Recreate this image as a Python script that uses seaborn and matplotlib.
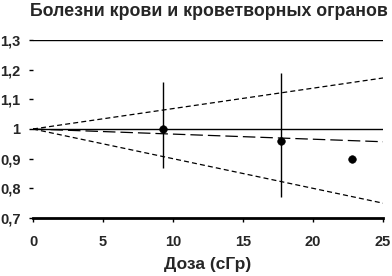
import matplotlib
matplotlib.use("Agg")
import matplotlib.pyplot as plt
import seaborn as sns
import pandas as pd
from matplotlib.ticker import FuncFormatter

# observed relative risk by dose group
dose = [9.3, 17.7, 22.8]
rr = [1.0, 0.96, 0.90]
ci_low = [0.87, 0.77, None]
ci_high = [1.16, 1.19, None]

# fitted model and its confidence band
fit_dose = [0, 25]
fit_rr = [1.0, 0.957]
fit_upper = [1.0, 1.172]
fit_lower = [1.0, 0.75]

xticks = [0, 5, 10, 15, 20, 25]
yticks = [0.7, 0.8, 0.9, 1.0, 1.1, 1.2, 1.3]

sns.set_style("white")
plt.rcParams["font.family"] = ["Liberation Sans", "DejaVu Sans"]
plt.rcParams["font.weight"] = "bold"

fig = plt.figure(figsize=(3.92, 2.76), dpi=100)
ax = fig.add_axes([33 / 392, 1 - 218 / 276, 350 / 392, 178 / 276])

fit = pd.DataFrame({"dose": fit_dose, "rr": fit_rr, "up": fit_upper, "lo": fit_lower})
sns.lineplot(data=fit, x="dose", y="rr", ax=ax, color="black", lw=0.9, linestyle=(0, (10, 4)))
sns.lineplot(data=fit, x="dose", y="up", ax=ax, color="black", lw=0.9, linestyle=(0, (4, 2.5)))
sns.lineplot(data=fit, x="dose", y="lo", ax=ax, color="black", lw=0.9, linestyle=(0, (4, 2.5)))

ax.axhline(1.0, color="black", lw=1)
ax.axhline(1.3, color="black", lw=1)

for x, lo, hi in zip(dose, ci_low, ci_high):
    if lo is not None:
        ax.vlines(x, lo, hi, color="black", lw=1)

pts = pd.DataFrame({"dose": dose, "rr": rr})
sns.scatterplot(data=pts, x="dose", y="rr", ax=ax, color="black", s=30, edgecolor="black", zorder=5)

ax.set_xlim(0, 25)
ax.set_ylim(0.7, 1.3)
ax.set_xticks(xticks)
ax.set_yticks(yticks)
ax.yaxis.set_major_formatter(FuncFormatter(lambda v, p: f"{v:g}".replace(".", ",")))
for s in ["top", "right", "left"]:
    ax.spines[s].set_visible(False)
ax.spines["bottom"].set_linewidth(2)
ax.spines["bottom"].set_color("black")
ax.tick_params(axis="x", length=3, width=1, color="black", pad=9, labelsize=10.5)
ax.tick_params(axis="y", length=3, width=1, color="black", pad=6, labelsize=10.5)
ax.tick_params(left=True, bottom=True)

ax.set_xlabel("Доза (сГр)", fontsize=12.5, fontweight="bold", labelpad=6)
ax.set_ylabel("")
fig.suptitle("Болезни крови и кроветворных огранов", x=0.533, y=0.99, fontsize=12.8,
             fontweight="bold", va="top")

fig.savefig("out.png", dpi=100)
